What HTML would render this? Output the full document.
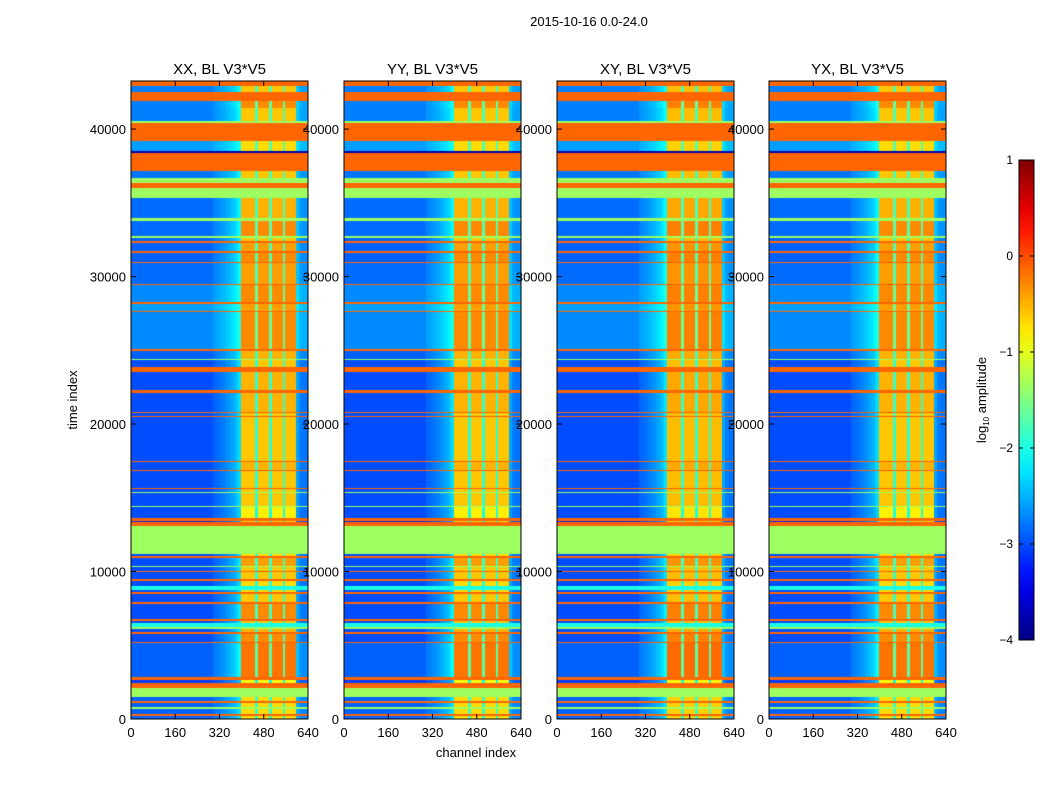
<!DOCTYPE html>
<html><head><meta charset="utf-8">
<style>
body{margin:0;background:#fff;width:1050px;height:800px;position:relative;overflow:hidden;font-family:"Liberation Sans",sans-serif;color:#000}
canvas{position:absolute}
</style></head><body>
<svg id="chart" width="1050" height="800" style="position:absolute;left:0;top:0"></svg>
<script>
// ---- data ----
const panelTitles = ["XX, BL V3*V5","YY, BL V3*V5","XY, BL V3*V5","YX, BL V3*V5"];
const panelSigOffset = [0, 0, 0.05, 0];
const yTicks = [0,10000,20000,30000,40000];
const xTicks = [0,160,320,480,640];
const cbTicks = [1,0,-1,-2,-3,-4];
// per 10-channel bin signal weight (64 bins)
const channelProfile = [
 0,0,0,0,0,0,0,0,0,0, 0,0,0,0,0,0,0,0,0,0, 0,0,0,0,0,0,0,0,0,0,
 0.05,0.06,0.08,0.1,0.12,0.14,0.17,0.2,0.24,0.3,
 1,1,1,1,1, 0.45, 1,1,1,1, 0.45, 1,1,1,1, 0.45, 1,1,1,1,
 0.18,0.1,0.08,0.08];
// time bands (upper edge); kind: n=normal o=orange-flag g=green-flag c=cyan b=dark
const bandTop = [
 250,400,700,850,1100,1250,1500,2150,2450,2650,
 2850,5200,5260,5830,5950,6170,6250,6510,6710,6800,
 7860,7940,8540,8640,8750,9020,9420,9500,9970,10050,
 10370,10430,10980,11080,11255,13150,13360,13490,13630,14440,
 14500,15390,15450,15650,15720,16480,16540,16880,16950,17430,
 17500,19870,19930,20480,20610,20810,20870,22170,22310,23530,
 23870,24400,24460,25020,25100,27600,27680,28200,28280,29430,
 29550,30920,31000,31664,31799,32341,32476,32680,32815,33832,
 34036,35392,36070,36409,36748,37222,38443,38578,39256,40477,
 40612,41494,41968,42578,42985,43260];
const bandKind = [
 'n','o','n','g','n','o','n','g','o','n',
 'o','n','o','n','o','n','g','c','n','o',
 'n','o','n','o','n','c','n','o','n','o',
 'n','g','n','o','n','g','o','n','o','n',
 'g','n','g','n','o','n','g','n','o','n',
 'o','n','g','n','o','n','o','n','o','n',
 'o','n','g','n','o','n','o','n','o','n',
 'o','n','o','n','o','n','o','n','g','n',
 'g','n','g','o','g','n','o','b','n','o',
 'g','n','n','o','n','o'];
const bandSig = [
 -0.7,0,-0.7,0,-0.7,0,-0.7,0,0,-0.9,
 0,-0.2,0,-0.3,0,-0.5,0,0,-0.6,0,
 -0.3,0,-0.6,0,-0.7,0,-0.7,0,-0.6,0,
 -0.6,0,-0.4,0,-0.7,0,0,-0.7,0,-0.8,
 0,-0.6,0,-0.6,0,-0.6,0,-0.6,0,-0.5,
 0,-0.6,0,-0.6,0,-0.6,0,-0.5,0,-0.5,
 0,-0.6,0,-0.5,0,-0.3,0,-0.4,0,-0.3,
 0,-0.4,0,-0.3,0,-0.4,0,-0.6,0,-0.3,
 0,-0.5,0,0,0,-0.6,0,0,-0.7,0,
 0,-0.6,-0.3,0,-0.6,0];
const bandBg = [
 -2.9,0,-2.9,0,-2.9,0,-2.9,0,0,-3.1,
 0,-2.9,0,-3.0,0,-3.0,0,0,-3.0,0,
 -3.0,0,-3.0,0,-3.0,0,-3.0,0,-3.0,0,
 -3.0,0,-3.0,0,-3.0,0,0,-3.2,0,-3.0,
 0,-3.0,0,-3.0,0,-3.0,0,-3.0,0,-3.0,
 0,-3.0,0,-3.0,0,-3.0,0,-3.0,0,-3.0,
 0,-3.0,0,-2.9,0,-2.7,0,-2.6,0,-2.7,
 0,-2.85,0,-2.9,0,-2.9,0,-2.9,0,-2.85,
 0,-2.85,0,0,0,-2.8,0,0,-2.6,0,
 0,-2.75,-2.75,0,-2.75,0];
const flagValue = {o:-0.12, g:-1.35, c:-2.0, b:-3.8};

// ---- layout ----
const panelLeft=[131,344,557,769], PW=177, PT=81, PB=719, TMAX=43260, VMIN=-4, VMAX=1;
const xs = c => PW*c/640;
const ys = t => PB - (PB-PT)*t/TMAX;
function jet(v){const x=Math.max(0,Math.min(1,(v-VMIN)/(VMAX-VMIN)));const f=k=>Math.round(255*Math.max(0,Math.min(1,1.5-Math.abs(4*x-k))));return `rgb(${f(3)},${f(2)},${f(1)})`;}
const NS="http://www.w3.org/2000/svg";
const svg=document.getElementById('chart');
function mk(tag,attrs,parent){const e=document.createElementNS(NS,tag);for(const k in attrs)e.setAttribute(k,attrs[k]);(parent||svg).appendChild(e);return e;}
function txt(x,y,s,size,anchor,parent){const e=mk('text',{x:x,y:y,'font-size':size,'text-anchor':anchor||'middle','font-family':'Liberation Sans, sans-serif'},parent);e.textContent=s;return e;}

const sup=txt(589,26,"2015-10-16 0.0-24.0",13);



panelLeft.forEach((L,p)=>{
  const g=mk('g',{});
  
  
  const cv=document.createElement('canvas');
  cv.width=PW;cv.height=PB-PT;cv.style.left=L+'px';cv.style.top=PT+'px';
  
  
  document.body.insertBefore(cv, svg);
  const ctx=cv.getContext('2d');
  let lo=0;
  for(let b=0;b<bandTop.length;b++){
    const hi=bandTop[b];const y1=ys(hi)-PT,y0=ys(lo)-PT;const k=bandKind[b];
    for(let c=0;c<64;c++){
      let v;
      if(k==='n'){const s=bandSig[b]+panelSigOffset[p];v=bandBg[b]+(s-bandBg[b])*channelProfile[c];}
      else v=flagValue[k];
      ctx.fillStyle=jet(v);
      const x0=xs(c*10),x1=xs(c*10+10);
      ctx.fillRect(Math.floor(x0),Math.floor(y1),Math.ceil(x1)-Math.floor(x0),Math.max(1,Math.ceil(y0)-Math.floor(y1)));
    }
    lo=hi;
  }
  mk('rect',{x:L,y:PT,width:PW,height:PB-PT,fill:'none',stroke:'#000','stroke-width':1},g);
  const ti=txt(L+PW/2,74,panelTitles[p],15,'middle',g);
  
  
  yTicks.forEach(t=>{const y=ys(t);mk('line',{x1:L,x2:L+5,y1:y,y2:y,stroke:'#000'},g);mk('line',{x1:L+PW,x2:L+PW-5,y1:y,y2:y,stroke:'#000'},g);
    const l=txt(L-5,y+5,String(t),13,'end',g);
    
    });
  xTicks.forEach(c=>{const x=L+xs(c);mk('line',{x1:x,x2:x,y1:PB,y2:PB-5,stroke:'#000'},g);mk('line',{x1:x,x2:x,y1:PT,y2:PT+5,stroke:'#000'},g);
    const l=txt(x,737,String(c),13,'middle',g);
    
    });
});
svg.style.zIndex=2;
const yt=txt(0,0,"time index",13);yt.setAttribute('transform','translate(77,400) rotate(-90)');


const xt=txt(476,757,"channel index",13);



// colorbar
const cb=mk('g',{});


const CBX=1019,CBW=15,CBT=160,CBB=640;
const defs=mk('defs',{},cb);const lg=mk('linearGradient',{id:'jg',x1:0,y1:1,x2:0,y2:0},defs);
for(let i=0;i<=20;i++){mk('stop',{offset:i/20,'stop-color':jet(VMIN+(VMAX-VMIN)*i/20)},lg);}
mk('rect',{x:CBX,y:CBT,width:CBW,height:CBB-CBT,fill:'url(#jg)',stroke:'#000'},cb);
cbTicks.forEach(v=>{const y=CBB-(CBB-CBT)*(v-VMIN)/(VMAX-VMIN);
  mk('line',{x1:CBX,x2:CBX+4,y1:y,y2:y,stroke:'#000'},cb);mk('line',{x1:CBX+CBW,x2:CBX+CBW-4,y1:y,y2:y,stroke:'#000'},cb);
  const l=txt(1013,y+4,(v<0?'\u2212':'')+Math.abs(v),12,'end',cb);
  
  });
const ct=mk('text',{transform:'translate(986,400) rotate(-90)','font-size':13,'text-anchor':'middle','font-family':'Liberation Sans, sans-serif'},cb);
ct.innerHTML='log<tspan font-size="8" dy="3">10</tspan><tspan dy="-3"> amplitude</tspan>';


</script>
</body></html>
